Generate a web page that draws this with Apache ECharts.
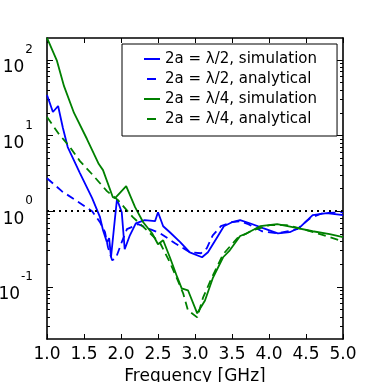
<!DOCTYPE html>
<html>
<head>
<meta charset="utf-8">
<script src="https://cdn.jsdelivr.net/npm/echarts@6/dist/echarts.min.js"></script>
<style>html,body{margin:0;padding:0;background:#fff}#chart{width:382px;height:382px}</style>
</head>
<body>
<div id="chart"></div>
<script>
// values
var blueSimFreq = [1.0,1.08,1.15,1.215,1.28,1.445,1.61,1.716,1.757,1.81,1.84,1.865,1.92,1.946,2.01,2.05,2.12,2.2,2.32,2.46,2.5,2.57,2.66,2.8,2.93,3.095,3.175,3.3,3.39,3.5,3.61,3.74,3.92,4.12,4.28,4.42,4.59,4.78,5.0];
var blueSimVal = [34.4,20.5,24.6,12.6,7.04,3.19,1.49,0.833,0.56,0.389,0.44,0.246,0.833,1.44,0.97,0.314,0.48,0.69,0.76,0.738,0.97,0.633,0.527,0.389,0.286,0.246,0.286,0.453,0.633,0.715,0.76,0.693,0.596,0.51,0.527,0.614,0.885,0.94,0.885];

var blueAnaFreq = [1.0,1.2,1.405,1.61,1.716,1.784,1.824,1.88,1.93,2.01,2.08,2.23,2.39,2.53,2.73,2.93,3.08,3.16,3.24,3.35,3.49,3.61,3.72,3.905,4.12,4.38,4.555,4.72,5.0];
var blueAnaVal = [2.73,1.84,1.36,1.0,0.715,0.527,0.334,0.224,0.238,0.389,0.578,0.673,0.578,0.51,0.377,0.286,0.278,0.324,0.48,0.633,0.715,0.738,0.673,0.543,0.51,0.578,0.807,0.94,0.97];

var greenSimFreq = [1.0,1.135,1.23,1.365,1.54,1.70,1.757,1.89,1.92,2.07,2.19,2.30,2.42,2.50,2.57,2.66,2.76,2.82,2.905,3.03,3.135,3.24,3.38,3.47,3.61,3.70,3.88,4.11,4.32,4.59,4.82,5.0];
var greenSimVal = [196,97,45,19.9,9.0,4.2,3.49,1.53,1.49,2.14,1.13,0.715,0.51,0.366,0.413,0.246,0.134,0.0955,0.090,0.0446,0.066,0.130,0.246,0.304,0.47,0.51,0.633,0.673,0.614,0.543,0.496,0.453];

var greenAnaFreq = [1.0,1.16,1.30,1.445,1.62,1.81,1.96,2.16,2.35,2.53,2.66,2.76,2.84,2.905,3.03,3.11,3.23,3.38,3.57,3.78,4.01,4.24,4.46,4.69,5.0];
var greenAnaVal = [17.6,10.5,7.26,4.59,3.0,1.84,1.40,0.833,0.56,0.377,0.211,0.126,0.082,0.0489,0.0394,0.0726,0.134,0.269,0.439,0.56,0.653,0.653,0.578,0.496,0.40];

var seriesNames = ['2a = λ/2, simulation', '2a = λ/2, analytical', '2a = λ/4, simulation', '2a = λ/4, analytical'];

// axis ticks
var yMajorExp = [-1, 0, 1, 2];
var yMinorMult = [2, 3, 4, 5, 6, 7, 8, 9];
var yMinExp = -1.69, yMaxExp = 2.29;

var yMinorExp = [];
for (var n = -2; n <= 2; n++) {
    for (var k = 0; k < yMinorMult.length; k++) {
        var e = n + Math.log10(yMinorMult[k]);
        if (e > yMinExp && e < yMaxExp) yMinorExp.push(e);
    }
}

function pairs(xs, ys) {
    var out = [];
    for (var i = 0; i < xs.length; i++) out.push([xs[i], ys[i]]);
    return out;
}

var font = 'DejaVu Sans';

// value axes in log10 space, only used to draw ticks and labels
function tickAxis(pos, vals, len, withLabels) {
    return {
        type: 'value', position: pos, min: yMinExp, max: yMaxExp,
        axisLine: {show: false, onZero: false},
        axisTick: {show: true, inside: true, length: len, customValues: vals, lineStyle: {color: '#000', width: 1}},
        axisLabel: withLabels ? {
            show: true, customValues: yMajorExp, margin: 14, color: '#000',
            formatter: function (v) { return '{b|10}{s|' + Math.round(v) + '}'; },
            rich: {
                b: {fontFamily: font, fontSize: 17, color: '#000', lineHeight: 18, padding: [16, 0, 0, 0]},
                s: {fontFamily: font, fontSize: 12, color: '#000', lineHeight: 14, padding: [0, 0, 20, 1]}
            }
        } : {show: false},
        splitLine: {show: false}
    };
}

function lineSeries(i, xs, ys, color, dashed) {
    return {
        name: seriesNames[i], type: 'line', xAxisIndex: 0, yAxisIndex: 0,
        data: pairs(xs, ys), showSymbol: false, symbol: 'none', smooth: false,
        lineStyle: {color: color, width: 1.8, type: dashed ? [8, 5] : 'solid'},
        itemStyle: {color: color},
        animation: false
    };
}

var chart = echarts.init(document.getElementById('chart'));
var s0 = lineSeries(0, blueSimFreq, blueSimVal, '#0000ff', false);
s0.markLine = {
    silent: true, symbol: ['none', 'none'], label: {show: false},
    lineStyle: {color: '#000', type: [2, 4], width: 2},
    data: [{yAxis: 1}], animation: false
};

chart.setOption({
    animation: false,
    backgroundColor: '#fff',
    grid: {left: 47, right: 39, top: 38, bottom: 43, containLabel: false, outerBoundsMode: 'none'},
    legend: {
        orient: 'vertical', left: 122, top: 44,
        padding: [6, 20, 8, 21],
        itemGap: 2, itemWidth: 16, itemHeight: 12,
        backgroundColor: '#fff', borderColor: '#000', borderWidth: 1, borderRadius: 0,
        itemStyle: {opacity: 0},
        textStyle: {fontFamily: font, fontSize: 15, color: '#000', lineHeight: 18},
        data: [
            {name: seriesNames[0]},
            {name: seriesNames[1], lineStyle: {type: [0, 3, 9, 10]}},
            {name: seriesNames[2]},
            {name: seriesNames[3], lineStyle: {type: [0, 3, 9, 10]}}
        ]
    },
    xAxis: [
        {
            type: 'value', position: 'bottom', min: 1, max: 5, interval: 0.5,
            name: 'Frequency [GHz]', nameLocation: 'middle', nameGap: 28,
            nameTextStyle: {fontFamily: font, fontSize: 17, color: '#000'},
            axisLine: {show: true, onZero: false, lineStyle: {color: '#000', width: 1.6}},
            axisTick: {show: true, inside: true, length: 5, lineStyle: {color: '#000', width: 1}},
            axisLabel: {fontFamily: font, fontSize: 17, color: '#000', margin: 7,
                formatter: function (v) { return v.toFixed(1); }},
            splitLine: {show: false}
        },
        {
            type: 'value', position: 'top', min: 1, max: 5, interval: 0.5,
            axisLine: {show: true, onZero: false, lineStyle: {color: '#000', width: 1.6}},
            axisTick: {show: true, inside: true, length: 5, lineStyle: {color: '#000', width: 1}},
            axisLabel: {show: false},
            splitLine: {show: false}
        }
    ],
    yAxis: [
        {
            type: 'log', position: 'left', min: Math.pow(10, yMinExp), max: Math.pow(10, yMaxExp),
            axisLine: {show: true, onZero: false, lineStyle: {color: '#000', width: 1.6}},
            axisTick: {show: false}, axisLabel: {show: false}, splitLine: {show: false},
            minorTick: {show: false}
        },
        tickAxis('left', yMajorExp, 6, true),
        tickAxis('left', yMinorExp, 3, false),
        (function () {
            var a = tickAxis('right', yMajorExp, 6, false);
            a.axisLine = {show: true, onZero: false, lineStyle: {color: '#000', width: 1.6}};
            return a;
        })(),
        tickAxis('right', yMinorExp, 3, false)
    ],
    series: [
        s0,
        lineSeries(1, blueAnaFreq, blueAnaVal, '#0000ff', true),
        lineSeries(2, greenSimFreq, greenSimVal, '#008000', false),
        lineSeries(3, greenAnaFreq, greenAnaVal, '#008000', true)
    ]
});
</script>
</body>
</html>
